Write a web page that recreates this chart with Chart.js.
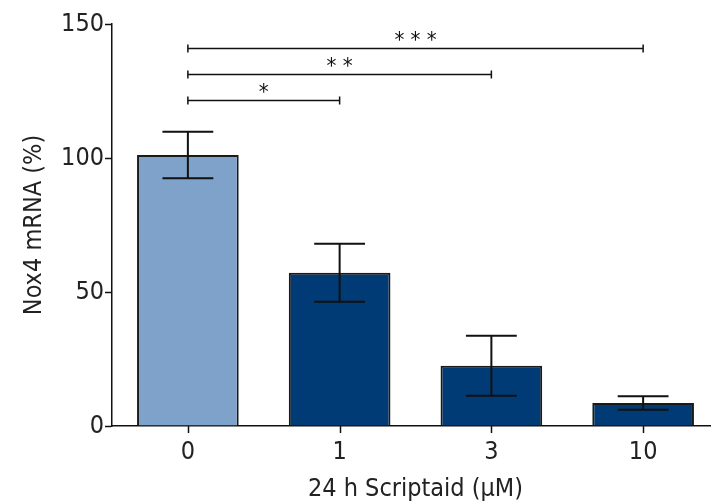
<!DOCTYPE html>
<html>
<head>
<meta charset="utf-8">
<script src="https://cdn.jsdelivr.net/npm/chart.js@4.4.1/dist/chart.umd.min.js"></script>
<style>
  html, body { margin: 0; padding: 0; background: #fff; overflow: hidden; }
  #wrap { width: 720px; height: 503px; }
</style>
</head>
<body>
<div id="wrap"><canvas id="c" width="720" height="503"></canvas></div>
<script>
const categories = ['0', '1', '3', '10'];
const means = [101.1, 57.2, 22.5, 8.6];      // Nox4 mRNA (%)
const sem = [8.7, 10.8, 11.2, 2.5];
const barColors = ['#7fa2cb', '#003b75', '#003b75', '#003b75'];
// significance brackets: from category index, to category index, y level, label
const sigFrom = [0, 0, 0];
const sigTo = [1, 2, 3];
const sigLevel = [121.5, 131.5, 141.2];
const sigLabel = ['*', '* *', '* * *'];

const FONT = "'Liberation Sans Narrow', 'DejaVu Sans Condensed', sans-serif";

const errorBars = {
    id: 'errorBars',
    afterDatasetsDraw(chart) {
        const { ctx, scales: { x, y } } = chart;
        const meta = chart.getDatasetMeta(0);
        ctx.save();
        ctx.strokeStyle = '#111';
        ctx.lineWidth = 2;
        means.forEach((m, i) => {
            const bar = meta.data[i];
            const cx = x.getPixelForValue(i);
            const half = bar.width / 4;
            const top = y.getPixelForValue(m + sem[i]);
            const bot = y.getPixelForValue(m - sem[i]);
            ctx.beginPath();
            ctx.moveTo(cx, top); ctx.lineTo(cx, bot);
            ctx.moveTo(cx - half, top); ctx.lineTo(cx + half, top);
            ctx.moveTo(cx - half, bot); ctx.lineTo(cx + half, bot);
            ctx.stroke();
        });
        ctx.restore();
    },
};

const brackets = {
    id: 'brackets',
    afterDraw(chart) {
        const { ctx, chartArea, scales: { x, y } } = chart;
        ctx.save();
        ctx.strokeStyle = '#111';
        ctx.fillStyle = '#111';
        ctx.lineWidth = 1.5;
        // category tick marks under the x axis
        categories.forEach((_, i) => {
            const cx = Math.round(x.getPixelForValue(i)) + 0.5;
            ctx.beginPath();
            ctx.moveTo(cx, chartArea.bottom);
            ctx.lineTo(cx, chartArea.bottom + 7);
            ctx.stroke();
        });
        ctx.font = '22px ' + FONT;
        ctx.textAlign = 'center';
        ctx.textBaseline = 'middle';
        sigLevel.forEach((lvl, k) => {
            const x1 = x.getPixelForValue(sigFrom[k]);
            const x2 = x.getPixelForValue(sigTo[k]);
            const yy = Math.round(y.getPixelForValue(lvl)) + 0.5;
            ctx.beginPath();
            ctx.moveTo(x1, yy); ctx.lineTo(x2, yy);
            ctx.moveTo(x1, yy - 4); ctx.lineTo(x1, yy + 4);
            ctx.moveTo(x2, yy - 4); ctx.lineTo(x2, yy + 4);
            ctx.stroke();
            ctx.fillText(sigLabel[k], (x1 + x2) / 2, yy - 7);
        });
        ctx.restore();
    },
};

new Chart(document.getElementById('c'), {
    type: 'bar',
    data: {
        labels: categories,
        datasets: [{
            data: means,
            backgroundColor: barColors,
            borderColor: '#1a1a1a',
            borderWidth: 2,
            categoryPercentage: 0.67,
            barPercentage: 1.0,
        }],
    },
    options: {
        responsive: false,
        animation: false,
        layout: { padding: { top: 24, right: 1, left: 0, bottom: 0 } },
        plugins: {
            legend: { display: false },
            tooltip: { enabled: false },
        },
        scales: {
            x: {
                grid: { display: false, tickLength: 7 },
                border: { display: true, color: '#111', width: 1.5 },
                ticks: { color: '#222', font: { family: FONT, size: 25 }, padding: 4 },
                title: { display: true, text: '24 h Scriptaid (µM)', color: '#222', font: { family: FONT, size: 25 }, padding: { top: 6, bottom: -1 } },
                afterFit: (s) => { s.height = 77; },
            },
            y: {
                min: 0,
                max: 150,
                grid: { display: true, drawOnChartArea: false, drawTicks: true, tickLength: 7, tickColor: '#111', tickWidth: 1.5 },
                border: { display: true, color: '#111', width: 1.5 },
                ticks: { stepSize: 50, color: '#222', font: { family: FONT, size: 25 }, padding: 1 },
                title: { display: true, text: 'Nox4 mRNA (%)', color: '#222', font: { family: FONT, size: 25 }, padding: { top: 19, bottom: 0 } },
                afterFit: (s) => { s.width = 112; },
            },
        },
    },
    plugins: [errorBars, brackets],
});
</script>
</body>
</html>
